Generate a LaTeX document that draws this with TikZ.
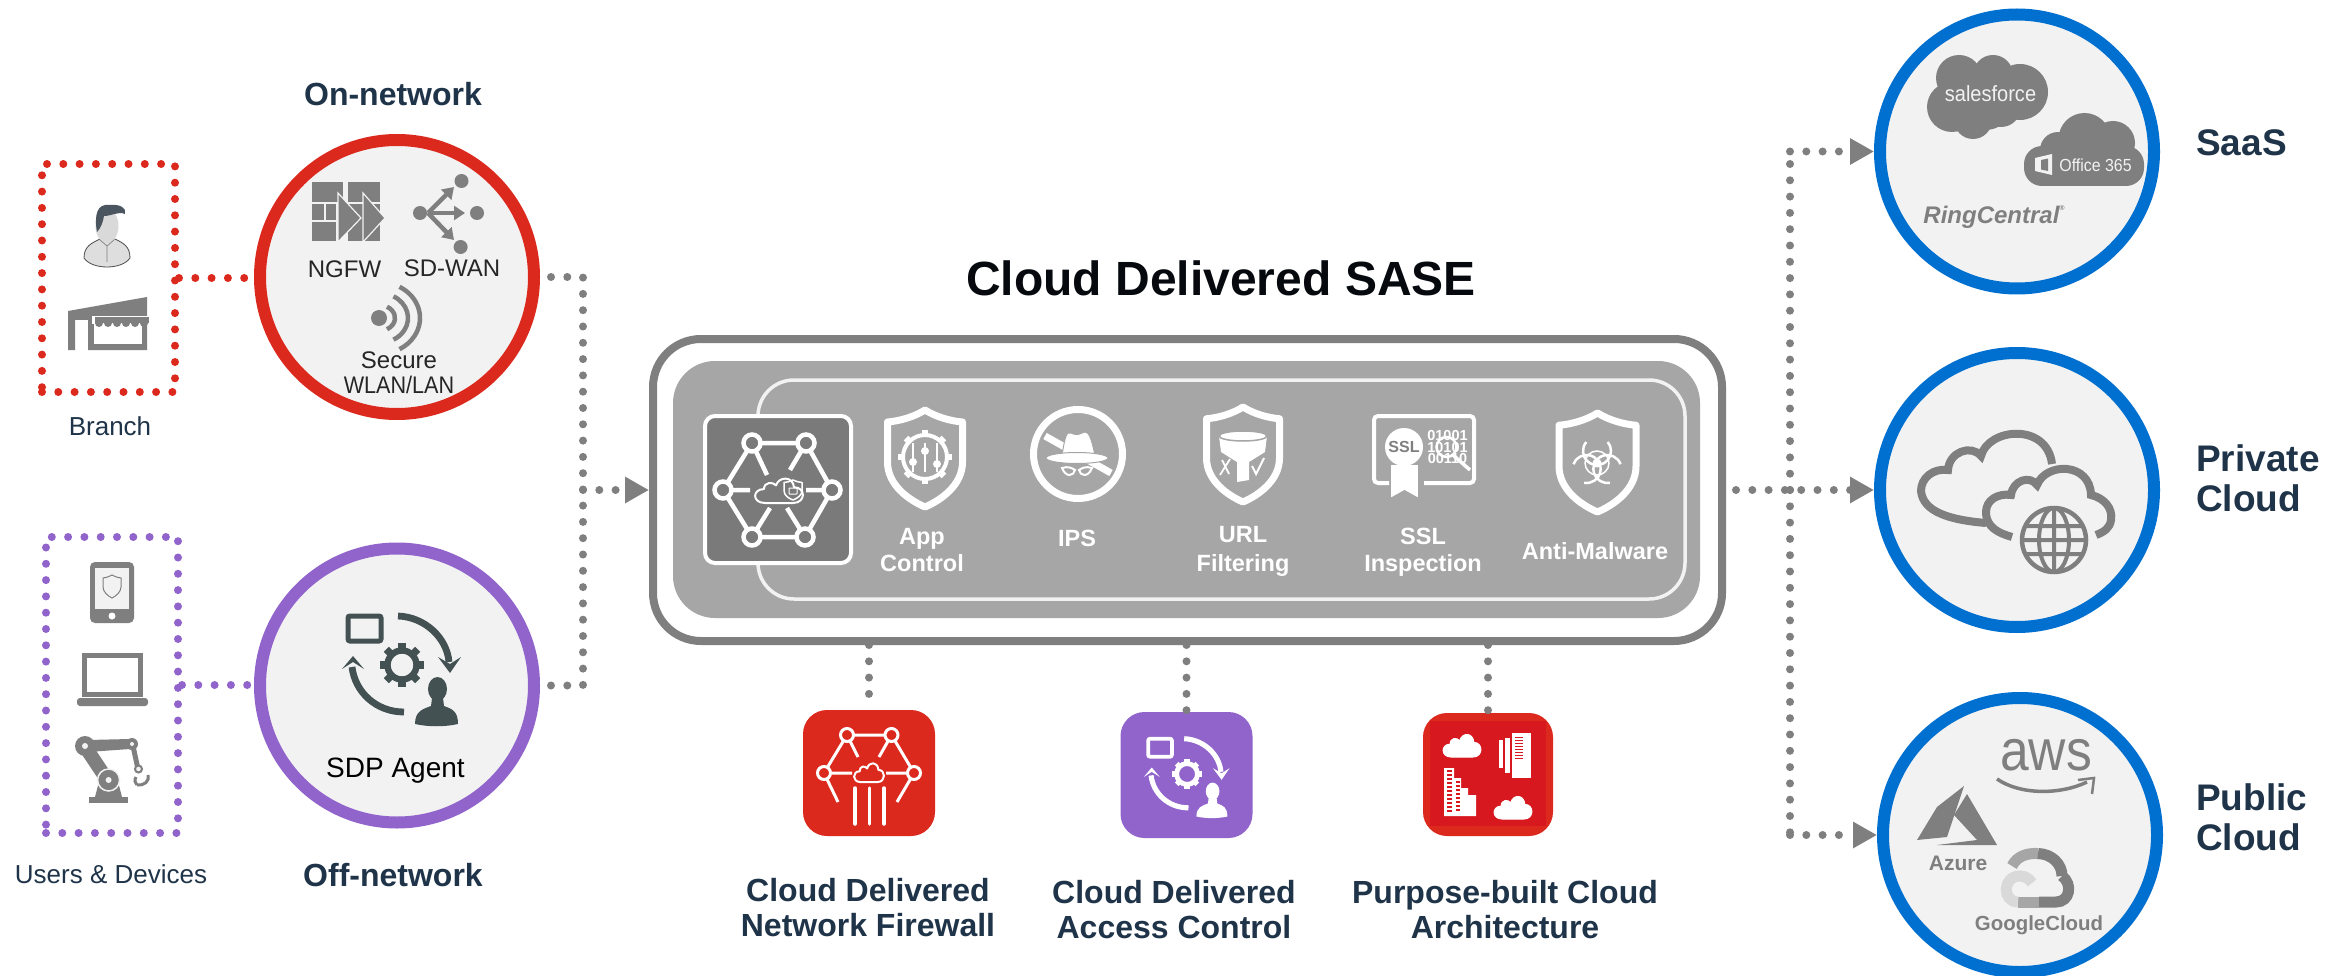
\documentclass[tikz,border=0pt]{standalone}
\usepackage{fontspec}
\setmainfont{Liberation Sans}
\usetikzlibrary{arrows.meta}
\definecolor{cred}{HTML}{DC291E}
\definecolor{cpur}{HTML}{9164CC}
\definecolor{cblue}{HTML}{0070D0}
\definecolor{cgray}{HTML}{7F7F7F}
\definecolor{cmid}{HTML}{A6A6A6}
\definecolor{cdark}{HTML}{7A7A7A}
\definecolor{clight}{HTML}{F2F2F2}
\definecolor{cnavy}{HTML}{1F3449}
\definecolor{csdp}{HTML}{435153}
\definecolor{cred2}{HTML}{D8181F}
\definecolor{chair}{HTML}{4A5560}
\tikzset{
  dotline/.style={line width=8pt,line cap=round,dash pattern=on 0pt off 16.3pt},
  circ/.style={circle,draw=#1,line width=12pt,fill=clight,minimum size=274pt,inner sep=0pt},
  tile/.style={rectangle,fill=#1,rounded corners=24pt,minimum width=132pt,minimum height=126pt,inner sep=0pt},
  tipper/.style={-{Triangle[length=24pt,width=25pt]}},
  wline/.style={white,line width=3.6pt},
  sdarrow/.style={cgray,line width=4.5pt,-{Triangle[length=11pt,width=14pt]}}
}
\newcommand\tx[6]{\node[inner sep=0pt,text height=#4*0.72pt,text depth=0pt,text=#5,font={\fontsize{#4}{#4}\selectfont #6}] (#1) at (#2,#3)}
\newcommand\shld[5]{\begin{scope}[shift={(#1,#2)},xscale=#3/37,yscale=#4/97]
  \draw[white,line width=#5pt,line join=round] (0,0) .. controls (-11,7) and (-25,11) .. (-37,12) -- (-37,52) .. controls (-37,75) and (-16,90) .. (0,97) .. controls (16,90) and (37,75) .. (37,52) -- (37,12) .. controls (25,11) and (11,7) .. (0,0) -- cycle;
\end{scope}}
\newcommand\cloudat[6]{\begin{scope}[shift={(#1,#2)},xscale=#3/48,yscale=#4/28]
  \draw[#5,line width=#6pt,line join=round] (-14,14) .. controls (-27,14) and (-27,-1) .. (-15,-1) .. controls (-15,-9) and (-6,-9) .. (-3,-5) .. controls (0,-15) and (14,-15) .. (15,-3) .. controls (27,-3) and (27,14) .. (14,14) -- cycle;
\end{scope}}
\newcommand\gearat[6]{\begin{scope}[shift={(#1,#2)}]
  \draw[#4,line width=#5pt] (0,0) circle[radius=#3pt];
  \foreach \a in {0,45,...,315}{\fill[#4,rotate=\a] (-#6,#3+#5/2-1) rectangle (#6,#3+#5/2+#5*0.7);}
\end{scope}}
\newcommand\sdpicon[2]{
  \draw[#1,line width=#2*1.25pt,rounded corners=2pt] (348,616) rectangle (381,641);
  \gearat{402}{665}{14.5}{#1}{#2*1.6}{3.6}
  \draw[#1,line width=#2*1.7pt] (398,616) .. controls (425,617) and (447,638) .. (449,662);
  \fill[#1] (438,657) -- (450,664) -- (461,657) -- (450,673) -- cycle;
  \draw[#1,line width=#2*1.7pt] (404,712) .. controls (376,712) and (355,692) .. (352,667);
  \fill[#1] (342,669) -- (353,662) -- (364,669) -- (353,656) -- cycle;
  \fill[#1] (437.5,689) circle[x radius=9.5pt,y radius=12pt];
  \fill[#1] (432,698) -- (443,698) -- (444,706) .. controls (452,709) and (458,711) .. (458,724) .. controls (445,727) and (428,727) .. (415,724) .. controls (415,711) and (423,709) .. (431,706) -- cycle;
}
\begin{document}
\begin{tikzpicture}[x=1pt,y=-1pt]
\useasboundingbox (0,0) rectangle (2348,976);
\fill[white] (0,0) rectangle (2348,976);

% --- main circles and boxes ---
\node[rectangle,draw=cred,dotline,minimum width=133pt,minimum height=228pt,inner sep=0pt] (branch) at (108.5,278) {};
\node[rectangle,draw=cpur,dotline,minimum width=132pt,minimum height=296pt,inner sep=0pt] (users) at (112,685) {};
\draw[cred,dotline] (branch.east |- 0,278) -- (248,278);
\draw[cpur,dotline] (users.east |- 0,685) -- (248,685);
\node[circ=cred] (onnet) at (397,277) {};
\node[circ=cpur] (offnet) at (397,685.5) {};
\node[circ=cblue] (saas) at (2017,151.5) {};
\node[circ=cblue] (privc) at (2017,490) {};
\node[circ=cblue] (pubc) at (2020,835) {};
\node[rectangle,draw=cgray,fill=white,line width=8pt,rounded corners=48pt,minimum width=1069pt,minimum height=302pt,inner sep=0pt] (sase) at (1187.5,490) {};
\node[rectangle,fill=cmid,rounded corners=42pt,minimum width=1027pt,minimum height=257pt,inner sep=0pt] (inner) at (1186.5,489.5) {};
\node[rectangle,draw=clight,line width=3.5pt,rounded corners=36pt,minimum width=927pt,minimum height=219pt,inner sep=0pt] (innerline) at (1221.5,489.5) {};
\node[rectangle,draw=white,fill=cdark,line width=4pt,rounded corners=10pt,minimum width=146pt,minimum height=147pt,inner sep=0pt] (core) at (778,489.5) {};

% --- connectors ---
\coordinate (jl) at (583,490);
\coordinate (jr) at (1790,490);
\draw[cgray,dotline] ([xshift=11pt]onnet.east) -- (jl |- onnet) -- (jl);
\draw[cgray,dotline] ([xshift=11pt]offnet.east) -- (jl |- offnet) -- (jl);
\draw[cgray,dotline,tipper] (jl) -- (sase.west);
\draw[cgray,dotline,tipper] ([xshift=10pt]sase.east) -- (privc.west);
\draw[cgray,dotline] (jr) -- (jr |- saas);
\draw[cgray,dotline] (jr) -- (jr |- pubc);
\draw[cgray,dotline,tipper] (jr |- saas) -- (saas.west);
\draw[cgray,dotline,tipper] (jr |- pubc) -- (pubc.west);
\node[tile=cred] (t1) at (869,773) {};
\node[tile=cpur] (t2) at (1186.5,775) {};
\node[tile=cred,minimum width=130pt,minimum height=123pt] (t3) at (1488,774.5) {};
\draw[cgray,dotline] (sase.south -| t1) -- (t1.north);
\draw[cgray,dotline] (sase.south -| t2) -- (t2.north);
\draw[cgray,dotline] (sase.south -| t3) -- (t3.north);

% --- branch icons ---
\draw[black!70,fill=black!13,line width=.8pt] (84,258) .. controls (84,246) and (92,243) .. (100,239) -- (115,239) .. controls (123,243) and (130,246) .. (130,258) .. controls (122,270) and (92,270) .. (84,258) -- cycle;
\fill[black!15] (107,226) circle[x radius=11.5pt,y radius=17pt];
\fill[chair] (97,232) .. controls (94,215) and (97,203) .. (110,205) .. controls (120,204) and (127,208) .. (125,214) .. controls (118,211) and (112,216) .. (104,216) .. controls (103,222) and (101,228) .. (97,232) -- cycle;
\draw[gray,line width=.7pt] (100,240) -- (107,246) -- (114,240) (107,246) -- (107,262);
\fill[cgray] (68,311) -- (147,297) -- (147,350) -- (88,350) -- (88,320) -- (75,320) -- (75,350) -- (68,350) -- cycle;
\fill[white] (94,323) rectangle (142,344);
\fill[white] (92,316) rectangle (150,324);
\fill[cgray] (95,317) rectangle (149,323);
\foreach \q in {99,108,...,144}{\fill[cgray] (\q,323) circle[radius=4pt];}

% --- device icons ---
\fill[cgray,rounded corners=5pt] (90,562) rectangle (134,623);
\fill[clight] (95,568) rectangle (129,609);
\fill[white] (112,616) circle[radius=3.5pt];
\draw[cgray,line width=1pt] (112,575) .. controls (108,577) and (105,578) .. (103,578) -- (103,587) .. controls (103,592) and (108,596) .. (112,598) .. controls (116,596) and (121,592) .. (121,587) -- (121,578) .. controls (119,578) and (116,577) .. (112,575) -- cycle;
\draw[cgray,line width=5pt] (84.5,655.5) rectangle (140.5,694);
\fill[cgray,rounded corners=3pt] (77,698) -- (148,698) -- (148,706) -- (77,706) -- cycle;
\fill[cgray] (89,803) rectangle (128,797);
\fill[cgray] (95,797) -- (122,797) -- (117,778) -- (100,778) -- cycle;
\draw[cgray,line width=14pt] (86,748) -- (106,778);
\fill[cgray] (88,740) -- (130,739) -- (130,749) -- (88,752) -- cycle;
\draw[cgray,line width=5pt] (133,746) -- (138,769);
\draw[clight,fill=cgray,line width=1.5pt] (108.6,780) circle[radius=11pt];
\fill[clight] (108.6,780) circle[radius=3pt];
\fill[cgray] (85,746) circle[radius=10pt];
\fill[clight] (85,746) circle[radius=3pt];
\fill[cgray] (132,744) circle[radius=6pt];
\fill[clight] (132,744) circle[radius=2pt];
\draw[cgray,fill=clight,line width=2pt] (138.5,769) circle[radius=3.5pt];
\draw[cgray,line width=3pt] (148,775) .. controls (150,781) and (144,786) .. (137,785) (136,777) .. controls (134,780) and (135,783) .. (137,785);

% --- on-network icons ---
\foreach \a/\b/\c/\d in {312/182/343/202,348/182/380/202,312/204/324/220,326/204/336/220,312/222/336/241,348/204/380/241}{\fill[cgray] (\a,\b) rectangle (\c,\d);}
\draw[clight,fill=cgray,line width=1.2pt,line join=miter] (338,193) -- (361,218) -- (338,242) -- cycle;
\draw[clight,fill=cgray,line width=1.2pt,line join=miter] (363,193) -- (385,218) -- (363,242) -- cycle;
\foreach \px/\py in {420/213,461.5/181,477/213,460.6/247}{\fill[cgray] (\px,\py) circle[radius=7pt];}
\draw[sdarrow] (428,213) -- (465,213);
\draw[sdarrow] (428,213) -- (454,187);
\draw[sdarrow] (428,213) -- (454,240);
\fill[cgray] (379,318) circle[radius=8pt];
\begin{scope}[shift={(379,318)}]
\foreach \rx/\ry in {16/13,29/25,41/36}{\draw[cgray,line width=4.5pt] (60:\rx pt and \ry pt) arc[start angle=60,end angle=-60,x radius=\rx pt,y radius=\ry pt];}
\end{scope}

% --- SDP icon and same in tile ---
\sdpicon{csdp}{4}
\begin{scope}[shift={(897.6,295.2)},scale=.72]
\sdpicon{white}{3}
\end{scope}

% --- core network icon ---
\coordinate (n1) at (752,443); \coordinate (n2) at (806,443); \coordinate (n3) at (723,490);
\coordinate (n4) at (832,490); \coordinate (n5) at (752,537); \coordinate (n6) at (805,537);
\draw[wline,line width=4.5pt] (n1) -- (n2) -- (n4) -- (n6) -- (n5) -- (n3) -- cycle;
\draw[wline,line width=4.5pt] (n1) -- (767,475) (n2) -- (790,470) (n3) -- (750,490) (n4) -- (806,490) (n5) -- (770,508) (n6) -- (787,508);
\foreach \n in {n1,n2,n3,n4,n5,n6}{\draw[white,fill=cdark,line width=4.5pt] (\n) circle[radius=8.5pt];}
\cloudat{779}{490}{48}{26}{white,fill=cdark}{2}
\shld{793}{480}{9}{20}{1.5}
\draw[white,line width=1pt,rounded corners=.5pt] (789,488) rectangle (797,494);

% --- App control ---
\shld{925}{410}{37.5}{97}{7}
\gearat{925}{457}{22}{white}{4}{3.2}
\foreach \sx/\sy in {913/462,925/451,937/464}{\draw[white,line width=2pt] (\sx,443) -- (\sx,472); \fill[white] (\sx,\sy) circle[radius=4pt];}

% --- IPS ---
\draw[white,line width=7pt] (1078,454) circle[radius=44.5pt];
\draw[white,line width=7pt] (1045,436) -- (1111,473);
\draw[cmid,fill=white,line width=1pt] (1062,455) .. controls (1065,438) and (1066,431) .. (1071,433) .. controls (1075,435) and (1078,435) .. (1082,433) .. controls (1089,429) and (1091,438) .. (1095,455) -- cycle;
\draw[cmid,fill=white,line width=1pt] (1077,458) circle[x radius=31pt,y radius=5.5pt];
\draw[white,line width=2pt] (1062,468) .. controls (1068,466) and (1072,468) .. (1075,470) .. controls (1074,476) and (1066,478) .. (1062,468) -- cycle;
\draw[white,line width=2pt] (1092,468) .. controls (1086,466) and (1082,468) .. (1079,470) .. controls (1080,476) and (1088,478) .. (1092,468) -- cycle;

% --- URL ---
\shld{1243}{407}{36.5}{95}{7}
\fill[white] (1219,436) -- (1221,452) -- (1237,462) -- (1237,482) -- (1249,480) -- (1249,462) -- (1265,452) -- (1267,436) -- cycle;
\draw[cmid,fill=white,line width=1.5pt] (1243,436) circle[x radius=24pt,y radius=5pt];
\draw[white,line width=1.8pt] (1222,460) -- (1229,474) (1230,459) -- (1220,475);
\draw[white,line width=2pt] (1252,466) -- (1256,474) -- (1264,458);

% --- SSL ---
\draw[white,line width=4pt,rounded corners=4pt] (1389,483) -- (1374,483) -- (1374,416) -- (1474,416) -- (1474,483) -- (1424,483);
\fill[white] (1391,465) rectangle (1418,497) ;
\fill[cmid] (1391,497.5) -- (1404.5,490) -- (1418,497.5) -- cycle;
\fill[white] (1404,447) circle[radius=19pt];
\tx{sslseal}{1404}{447}{16}{cgray}{\bfseries}{SSL};
\tx{d1}{1447.5}{435}{14.5}{white}{\bfseries}{01001};
\tx{d2}{1447.5}{447}{14.5}{white}{\bfseries}{10101};
\tx{d3}{1447.5}{458}{14.5}{white}{\bfseries}{00110};
\draw[white,line width=2.5pt] (1446.5,447) circle[radius=10pt];
\draw[white,line width=3.5pt] (1453,455) -- (1470,470);

% --- Anti-malware ---
\shld{1597.5}{413}{38.5}{99}{7}
\begin{scope}[shift={(1597,463)}]
\foreach \a in {90,210,330}{\draw[white,line width=2.5pt,rotate=\a] ({(12+14*cos(50))*1pt},{14*sin(50)*1pt}) arc[start angle=50,end angle=310,radius=14pt];}
\draw[white,line width=1.5pt] (0,0) circle[radius=12pt];
\fill[white] (0,0) circle[radius=4.5pt];
\end{scope}

% --- tile 1 icon ---
\coordinate (m1) at (847,735); \coordinate (m2) at (891.5,735); \coordinate (m3) at (824,773); \coordinate (m4) at (914,773);
\draw[white,line width=3pt] (m3) -- (m1) -- (m2) -- (m4) (m1) -- (858,757) (m2) -- (879,757) (m3) -- (852,773) (m4) -- (886,773) (m3) -- (838,802) (m4) -- (897,802);
\foreach \n in {m1,m2,m3,m4}{\draw[white,fill=cred,line width=3pt] (\n) circle[radius=6.5pt];}
\cloudat{869}{772}{30}{20}{white}{2}
\foreach \q in {855,869.5,884}{\draw[white,line width=3.5pt,line cap=round] (\q,788) -- (\q,824);}

% --- tile 3 icon ---
\fill[cred2] (1430,721) rectangle (1546,826);
\cloudat{1462}{745}{38}{24}{white,fill=white}{1}
\cloudat{1513}{807}{38}{24}{white,fill=white}{1}
\fill[white] (1512,733) rectangle (1531,778);
\fill[white] (1499,740) rectangle (1503,768);
\fill[white] (1505,738) rectangle (1510,773);
\fill[white] (1444,768) -- (1454,768) -- (1454,778) -- (1461,778) -- (1461,788) -- (1468,788) -- (1468,795) -- (1476,795) -- (1476,816) -- (1444,816) -- cycle;
\foreach \wy in {771,775,...,811}{\draw[cred2,line width=1.2pt] (1447,\wy) -- (1452,\wy);}
\foreach \wy in {782,786,...,811}{\draw[cred2,line width=1.2pt] (1456,\wy) -- (1460,\wy);}
\foreach \wy in {737,740,...,758}{\draw[cred2,line width=1pt] (1515,\wy) -- (1523,\wy);}

% --- SaaS logos ---
\foreach \px/\py/\pr in {1959/78/23,1993/75/20,2020/92/28,1952/107/25,1973/120/19,2001/107/20,1985/100/30}{\fill[cgray] (\px,\py) circle[radius=\pr pt];}
\tx{sf}{1990.5}{94}{22}{clight}{}{\scalebox{.91}[1]{salesforce}};
\foreach \px/\py/\pr in {2084.5/139/26,2113/143/22,2058/150/18}{\fill[cgray] (\px,\py) circle[radius=\pr pt];}
\fill[cgray,rounded corners=18pt] (2024,146) rectangle (2144,186);
\tx{o365}{2095.5}{165}{17.5}{clight}{}{\scalebox{.91}[1]{Office 365}};
\fill[clight] (2035,158) -- (2052,154) -- (2052,175) -- (2035,171) -- cycle;
\fill[cgray] (2041,160) -- (2048,158.5) -- (2048,171) -- (2041,169.5) -- cycle;
\tx{ring}{1994}{215}{24}{cgray}{\bfseries\itshape}{RingCentral\raisebox{.55em}{\fontsize{7}{7}\selectfont ®}};

% --- Private cloud icon ---
\draw[cgray,line width=8pt] (1986,523) .. controls (1950,520) and (1923,512) .. (1921,491) .. controls (1921,478) and (1933,468) .. (1948,470) .. controls (1949,452) and (1971,444) .. (1981,456) .. controls (1988,428) and (2047,422) .. (2052,464);
\draw[cgray,line width=8pt] (2012,537) .. controls (1998,533) and (1986,527) .. (1986,512) .. controls (1986,500) and (1998,493) .. (2011,495) .. controls (2013,480) and (2030,475) .. (2037,485) .. controls (2046,462) and (2090,462) .. (2091,495) .. controls (2104,498) and (2113,508) .. (2111,520) .. controls (2110,528) and (2104,532) .. (2096,535);
\begin{scope}[shift={(2054,540)}]
\draw[cgray,fill=clight,line width=4.5pt] (0,0) circle[radius=32pt];
\draw[cgray,line width=4pt] (0,0) circle[x radius=15pt,y radius=32pt] (0,-32) -- (0,32) (-32,0) -- (32,0) (-28,-14) -- (28,-14) (-28,14) -- (28,14);
\end{scope}

% --- Public cloud logos ---
\tx{aws}{2046}{750}{58}{cgray}{}{\scalebox{.89}[1]{aws}};
\draw[cgray,line width=3.5pt] (1997,779) .. controls (2020,795) and (2060,795) .. (2087,782);
\draw[cgray,line width=2.5pt] (2078,780) -- (2094,778) -- (2092,794);
\fill[cgray] (1964,786) -- (1937,807) -- (1917,840) -- (1947,837) -- cycle;
\fill[cgray] (1967,794) -- (1997,845) -- (1937,845) -- (1977,840) -- (1954,815) -- cycle;
\tx{az}{1958}{863}{21}{cgray}{\bfseries}{Azure};
\draw[black!35,line width=11pt] (2012,866) .. controls (2017,856) and (2027,853) .. (2038,853.5);
\draw[cgray,line width=11pt] (2038,853.5) .. controls (2052,854) and (2062,864) .. (2062,876);
\draw[cgray,line width=11pt] (2062,876) .. controls (2073,884) and (2070,902) .. (2056,902) -- (2039,902);
\draw[cmid,line width=11pt] (2039,902) -- (2018,902);
\draw[black!15,line width=11pt] (2018,902) .. controls (2002,902) and (2002,876) .. (2020,876) .. controls (2026,876) and (2030,880) .. (2032,883);
\tx{gc}{2039}{923}{20.4}{cgray}{\bfseries}{GoogleCloud};

% --- labels ---
\tx{title}{1221}{278}{48}{black!80!cnavy}{\bfseries}{Cloud Delivered SASE};
\tx{lon}{393}{94}{32}{cnavy}{\bfseries}{On-network};
\tx{loff}{393}{875}{32}{cnavy}{\bfseries}{Off-network};
\tx{lbr}{110}{426}{26}{cnavy}{}{Branch};
\tx{lus}{111}{874}{26}{cnavy}{}{Users \& Devices};
\tx{lng}{344.5}{269}{24}{black!85}{}{NGFW};
\tx{lsd}{452}{268}{24}{black!85}{}{SD-WAN};
\tx{lse}{399}{360}{24}{black!85}{}{Secure};
\tx{lwl}{399}{385}{24}{black!85}{}{\scalebox{.9}[1]{WLAN/LAN}};
\tx{lsdp}{395.5}{767}{28}{black}{}{SDP Agent};
\tx{lapp}{922}{536}{23.5}{white}{\bfseries}{App};
\tx{lctl}{922}{563}{23.5}{white}{\bfseries}{Control};
\tx{lips}{1077}{538}{23.5}{white}{\bfseries}{IPS};
\tx{lurl}{1243}{534}{23.5}{white}{\bfseries}{URL};
\tx{lflt}{1243}{563}{23.5}{white}{\bfseries}{Filtering};
\tx{lssl}{1423}{536}{23.5}{white}{\bfseries}{SSL};
\tx{lins}{1423}{563}{23.5}{white}{\bfseries}{Inspection};
\tx{lam}{1595}{551}{23.5}{white}{\bfseries}{Anti-Malware};
\tx{lb1a}{868}{890}{32}{cnavy}{\bfseries}{Cloud Delivered};
\tx{lb1b}{868}{925}{32}{cnavy}{\bfseries}{Network Firewall};
\tx{lb2a}{1174}{892}{32}{cnavy}{\bfseries}{Cloud Delivered};
\tx{lb2b}{1174}{927}{32}{cnavy}{\bfseries}{Access Control};
\tx{lb3a}{1505}{892}{32}{cnavy}{\bfseries}{Purpose-built Cloud};
\tx{lb3b}{1505}{927}{32}{cnavy}{\bfseries}{Architecture};
\node[anchor=west,inner sep=0pt,text height=26pt,text depth=0pt,text=cnavy,font={\fontsize{37}{37}\selectfont\bfseries}] (lsaas) at (2196,143) {SaaS};
\node[anchor=west,inner sep=0pt,text height=26pt,text depth=0pt,text=cnavy,font={\fontsize{37}{37}\selectfont\bfseries}] (lpr1) at (2196,458) {Private};
\node[anchor=west,inner sep=0pt,text height=26pt,text depth=0pt,text=cnavy,font={\fontsize{37}{37}\selectfont\bfseries}] (lpr2) at (2196,498) {Cloud};
\node[anchor=west,inner sep=0pt,text height=26pt,text depth=0pt,text=cnavy,font={\fontsize{37}{37}\selectfont\bfseries}] (lpu1) at (2196,797) {Public};
\node[anchor=west,inner sep=0pt,text height=26pt,text depth=0pt,text=cnavy,font={\fontsize{37}{37}\selectfont\bfseries}] (lpu2) at (2196,837) {Cloud};
\end{tikzpicture}
\end{document}
